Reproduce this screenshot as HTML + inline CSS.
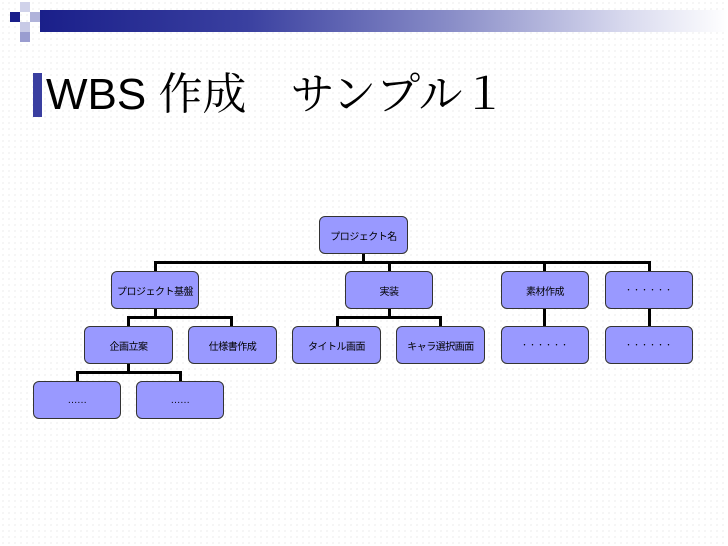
<!DOCTYPE html>
<html><head><meta charset="utf-8"><style>
body{margin:0;width:728px;height:546px;overflow:hidden;background:#fff;position:relative;
background-image:radial-gradient(circle,#dcdcdc 0.6px,transparent 0.8px);background-size:6px 6px;
font-family:"Liberation Sans","Noto Sans CJK JP",sans-serif;}
.a{position:absolute}
.band{left:40px;top:10px;width:688px;height:22px;background:linear-gradient(to right,#1a1f8a 0%,#3a40a0 30%,#8a8ec8 60%,#d8d9ee 85%,#fff 100%);}
.b{position:absolute;background:#9999ff;border:1.5px solid #333;border-radius:6px;box-sizing:border-box;display:flex;align-items:center;justify-content:center;font-size:10px;letter-spacing:-0.5px;white-space:nowrap;color:#000;}
.d{font-size:7px;letter-spacing:1px}
.l{position:absolute;background:#000}
</style></head><body>
<div class="a band"></div>
<div class="a" style="left:10px;top:12px;width:10px;height:10px;background:#1a1f8a"></div>
<div class="a" style="left:20px;top:2px;width:10px;height:10px;background:#d0d2ea"></div>
<div class="a" style="left:30px;top:12px;width:10px;height:10px;background:#b0b3da"></div>
<div class="a" style="left:20px;top:22px;width:10px;height:10px;background:#c8cae6"></div>
<div class="a" style="left:20px;top:32px;width:10px;height:10px;background:#9a9dd0"></div>
<div class="a" style="left:33px;top:73px;width:9px;height:44px;background:#3a3fa0"></div>
<div class="a" style="left:46px;top:70px;font-size:44px;line-height:50px;font-family:'Liberation Sans','Noto Serif CJK SC',serif;white-space:nowrap">WBS 作成　サンプル１</div>

<div class="l" style="left:362px;top:253px;width:3px;height:10px"></div>
<div class="l" style="left:154px;top:261px;width:497px;height:3px"></div>
<div class="l" style="left:154px;top:261px;width:3px;height:11px"></div>
<div class="l" style="left:388px;top:261px;width:3px;height:11px"></div>
<div class="l" style="left:543px;top:261px;width:3px;height:11px"></div>
<div class="l" style="left:648px;top:261px;width:3px;height:11px"></div>

<div class="l" style="left:154px;top:309px;width:3px;height:9px"></div>
<div class="l" style="left:127px;top:316px;width:106px;height:3px"></div>
<div class="l" style="left:127px;top:316px;width:3px;height:11px"></div>
<div class="l" style="left:230px;top:316px;width:3px;height:11px"></div>
<div class="l" style="left:388px;top:309px;width:3px;height:9px"></div>
<div class="l" style="left:336px;top:316px;width:106px;height:3px"></div>
<div class="l" style="left:336px;top:316px;width:3px;height:11px"></div>
<div class="l" style="left:439px;top:316px;width:3px;height:11px"></div>
<div class="l" style="left:543px;top:309px;width:3px;height:18px"></div>
<div class="l" style="left:648px;top:309px;width:3px;height:18px"></div>

<div class="l" style="left:127px;top:363px;width:3px;height:10px"></div>
<div class="l" style="left:76px;top:371px;width:106px;height:3px"></div>
<div class="l" style="left:76px;top:371px;width:3px;height:11px"></div>
<div class="l" style="left:179px;top:371px;width:3px;height:11px"></div>

<div class="b" style="left:319px;top:216px;width:89px;height:38px">プロジェクト名</div>
<div class="b" style="left:111px;top:271px;width:88px;height:38px">プロジェクト基盤</div>
<div class="b" style="left:345px;top:271px;width:88px;height:38px">実装</div>
<div class="b" style="left:501px;top:271px;width:88px;height:38px">素材作成</div>
<div class="b d" style="left:605px;top:271px;width:88px;height:38px">・・・・・・</div>
<div class="b" style="left:84px;top:326px;width:89px;height:38px">企画立案</div>
<div class="b" style="left:188px;top:326px;width:89px;height:38px">仕様書作成</div>
<div class="b" style="left:292px;top:326px;width:89px;height:38px">タイトル画面</div>
<div class="b" style="left:396px;top:326px;width:89px;height:38px">キャラ選択画面</div>
<div class="b d" style="left:501px;top:326px;width:88px;height:38px">・・・・・・</div>
<div class="b d" style="left:605px;top:326px;width:88px;height:38px">・・・・・・</div>
<div class="b" style="left:33px;top:381px;width:88px;height:38px">……</div>
<div class="b" style="left:136px;top:381px;width:88px;height:38px">……</div>
</body></html>
